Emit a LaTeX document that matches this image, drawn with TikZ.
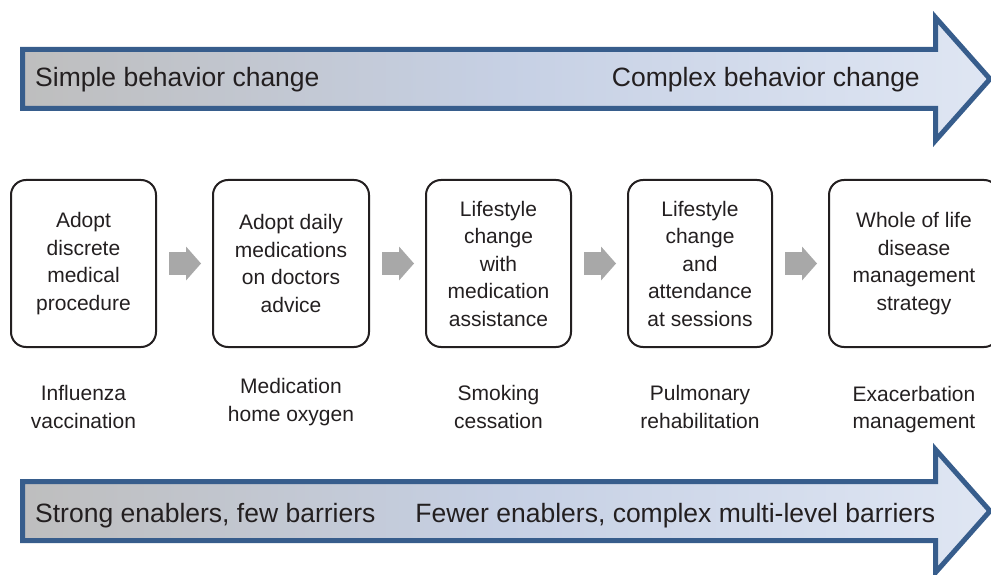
\documentclass[tikz,border=0pt]{standalone}
\usepackage{fontspec}
\setmainfont{Liberation Sans}
\usetikzlibrary{positioning, arrows.meta}

\definecolor{bandblue}{RGB}{55,93,140}
\definecolor{bandgray}{RGB}{190,190,190}
\definecolor{bandmid}{RGB}{198,208,228}
\definecolor{bandlight}{RGB}{223,230,243}
\definecolor{stepgray}{RGB}{168,168,168}
\definecolor{inkdark}{RGB}{35,31,32}

\tikzset{
	stepbox/.style={draw=inkdark, line width=2pt, rounded corners=15pt, minimum height=167pt},
	steparrow/.style={draw=stepgray, line width=23pt, -{Triangle[length=15pt, width=34pt, line width=0pt]}, shorten <=12pt, shorten >=11pt},
	band/.style={draw=bandblue, line width=5pt, left color=bandgray, right color=bandlight, middle color=bandmid},
	bandtext/.style={inner sep=0pt, font=\fontsize{26.5}{32}\selectfont}
}

\begin{document}
\begin{tikzpicture}[x=1pt, y=-1pt, every node/.style={align=center, text=inkdark, font=\fontsize{21}{27.5}\selectfont}]

			\useasboundingbox (0,0) rectangle (991,575);

			% Top band
			\draw[band] (22.5,49.5) -- (935.5,49.5) -- (935.5,17.5) -- (990,79) -- (935.5,140.5) -- (935.5,108.5) -- (22.5,108.5) -- cycle;
			\node[bandtext, anchor=base west] (simple)  at (35,87)  {Simple behavior change};
			\node[bandtext, anchor=base east] (complex) at (920,87) {Complex behavior change};

			% Steps
			\node[stepbox, minimum width=145pt] (adopt)     at (83.5,263.5)  {Adopt\\discrete\\medical\\procedure};
			\node[stepbox, minimum width=156pt] (daily)     at (291,263.5)   {Adopt daily\\medications\\on doctors\\advice};
			\node[stepbox, minimum width=145pt] (lifestyle) at (498.5,263.5) {Lifestyle\\change\\with\\medication\\assistance};
			\node[stepbox, minimum width=144pt] (sessions)  at (700,263.5)   {Lifestyle\\change\\and\\attendance\\at sessions};
			\node[stepbox, minimum width=170pt] (whole)     at (914,263.5)   {Whole of life\\disease\\management\\strategy};

			% Arrows steps
			\draw[steparrow] (adopt) -- (daily);
			\draw[steparrow] (daily) -- (lifestyle);
			\draw[steparrow] (lifestyle) -- (sessions);
			\draw[steparrow] (sessions) -- (whole);

			% Examples
			\node (flu)          at (83.5,407)  {Influenza\\vaccination};
			\node (oxygen)       at (291,402)   {Medication\\home oxygen};
			\node (smoking)      at (498.5,407) {Smoking\\cessation};
			\node (pulmonary)    at (700,407)   {Pulmonary\\rehabilitation};
			\node (exacerbation) at (914,409.5) {Exacerbation\\management};

			% Bottom band
			\draw[band] (22.5,481.5) -- (935.5,481.5) -- (935.5,449.5) -- (990,511) -- (935.5,572.5) -- (935.5,540.5) -- (22.5,540.5) -- cycle;
			\node[bandtext, anchor=base west] (strong) at (35,522)    {Strong enablers, few barriers};
			\node[bandtext, anchor=base east] (fewer)  at (935.5,522) {Fewer enablers, complex multi-level barriers};
		\end{tikzpicture}
\end{document}
